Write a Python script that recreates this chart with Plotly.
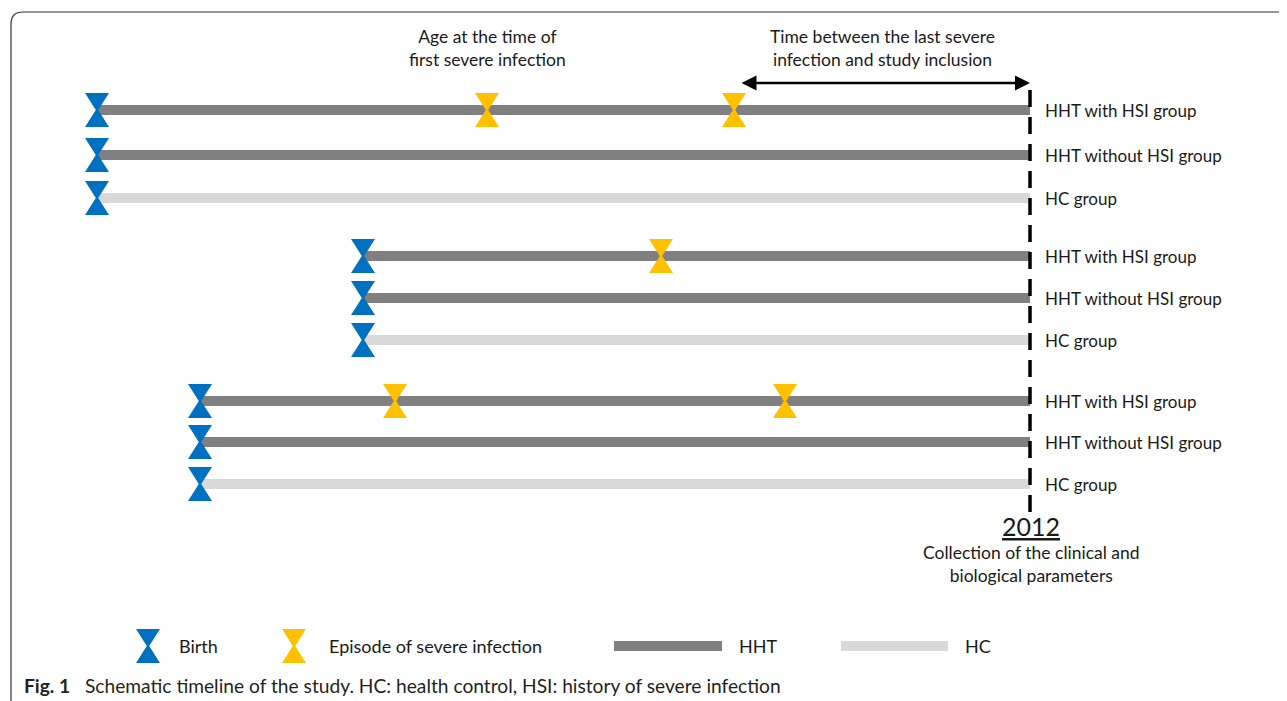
import plotly.graph_objects as go

# ---------------- data (schematic timeline units) ----------------
row_labels = ["HHT with HSI group", "HHT without HSI group", "HC group",
              "HHT with HSI group", "HHT without HSI group", "HC group",
              "HHT with HSI group", "HHT without HSI group", "HC group"]
row_kind = ["HHT", "HHT", "HC", "HHT", "HHT", "HC", "HHT", "HHT", "HC"]
row_pos = [110, 155, 198, 256, 298, 340, 401, 442, 484]
birth_t = [97, 97, 97, 363, 363, 363, 200, 200, 200]
infection_t = [[487, 734], [], [], [661], [], [], [395, 785], [], []]
inclusion_t = 1030
inclusion_year = "2012"

BLUE = "#0070C0"
YELLOW = "#FFC000"
DARK = "#808080"
LIGHT = "#D9D9D9"
FONT = "Lato"
TXT = "#1a1a1a"

W, H = 1287, 701
OFF = 8  # page body margin
HW, HH, WAIST = 12, 17, 1.2  # hourglass half width / half height


def hourglass(xs, ys):
    px, py = [], []
    for x, y in zip(xs, ys):
        px += [x - HW, x + HW, x + WAIST, x + HW, x - HW, x - WAIST, x - HW, None]
        py += [y - HH, y - HH, y, y + HH, y + HH, y, y - HH, None]
    return px, py


fig = go.Figure()

# timeline bars
for kind, col in (("HHT", DARK), ("HC", LIGHT)):
    xs, ys = [], []
    for k, y, b in zip(row_kind, row_pos, birth_t):
        if k == kind:
            xs += [b, inclusion_t, None]
            ys += [y, y, None]
    fig.add_trace(go.Scatter(x=xs, y=ys, mode="lines",
                             line=dict(color=col, width=10), hoverinfo="skip"))

# inclusion dashed line
fig.add_trace(go.Scatter(x=[inclusion_t, inclusion_t], y=[90, 512], mode="lines",
                         line=dict(color="black", width=3.5, dash="17px,10px"),
                         hoverinfo="skip"))

# birth markers
bx, by = hourglass(birth_t, row_pos)
fig.add_trace(go.Scatter(x=bx, y=by, mode="lines", fill="toself", fillcolor=BLUE,
                         line=dict(width=0, color=BLUE), hoverinfo="skip"))
# infection markers
ix, iy = [], []
for inf, y in zip(infection_t, row_pos):
    for t in inf:
        ix.append(t)
        iy.append(y)
ex, ey = hourglass(ix, iy)
fig.add_trace(go.Scatter(x=ex, y=ey, mode="lines", fill="toself", fillcolor=YELLOW,
                         line=dict(width=0, color=YELLOW), hoverinfo="skip"))

# legend
leg_y = 646
lx, ly = hourglass([148], [leg_y])
fig.add_trace(go.Scatter(x=lx, y=ly, mode="lines", fill="toself", fillcolor=BLUE,
                         line=dict(width=0, color=BLUE), hoverinfo="skip"))
lx, ly = hourglass([294], [leg_y])
fig.add_trace(go.Scatter(x=lx, y=ly, mode="lines", fill="toself", fillcolor=YELLOW,
                         line=dict(width=0, color=YELLOW), hoverinfo="skip"))
fig.add_trace(go.Scatter(x=[614, 722], y=[leg_y, leg_y], mode="lines",
                         line=dict(color=DARK, width=10), hoverinfo="skip"))
fig.add_trace(go.Scatter(x=[841, 948], y=[leg_y, leg_y], mode="lines",
                         line=dict(color=LIGHT, width=10), hoverinfo="skip"))

ann = []
def txt(x, y, s, size=17.5, xanchor="left", **kw):
    ann.append(dict(x=x, y=y, text=s, showarrow=False, xanchor=xanchor, yanchor="middle",
                    font=dict(family=FONT, size=size, color=TXT), **kw))

for lab, y in zip(row_labels, row_pos):
    txt(1043, y, lab, size=17)

txt(177, leg_y, "Birth", size=18)
txt(327, leg_y, "Episode of severe infection", size=18)
txt(737, leg_y, "HHT", size=18)
txt(963, leg_y, "HC", size=18)

txt(487, 48, "Age at the time of<br>first severe infection", xanchor="center", align="center")
txt(882, 48, "Time between the last severe<br>infection and study inclusion", xanchor="center", align="center")
txt(1031, 526, "<u>" + inclusion_year + "</u>", size=25, xanchor="center")
txt(1031, 564, "Collection of the clinical and<br>biological parameters", xanchor="center", align="center")

# double-headed arrow
ann.append(dict(x=inclusion_t, y=83, ax=740, ay=83, axref="x", ayref="y", xref="x", yref="y",
                text="", showarrow=True, arrowhead=2, arrowside="end+start",
                arrowsize=1.2, arrowwidth=2.5, arrowcolor="black"))

# caption
ann.append(dict(x=22, y=685, xanchor="left", yanchor="middle", showarrow=False,
                text="<b>Fig. 1</b>   Schematic timeline of the study. HC: health control, HSI: history of severe infection",
                font=dict(family=FONT, size=19.2, color="#231f20")))

fig.update_layout(
    width=W - OFF, height=H - OFF, margin=dict(l=0, r=0, t=0, b=0),
    paper_bgcolor="white", plot_bgcolor="white", showlegend=False,
    xaxis=dict(range=[OFF, W], visible=False, fixedrange=True),
    yaxis=dict(range=[H, OFF], visible=False, fixedrange=True),
    annotations=ann,
    shapes=[dict(type="path", xref="x", yref="y",
                 path="M 11 701 L 11 24 Q 11 12 23 12 L 1300 12",
                 line=dict(color="#333333", width=1.2))],
)

fig.write_html("out.html")
